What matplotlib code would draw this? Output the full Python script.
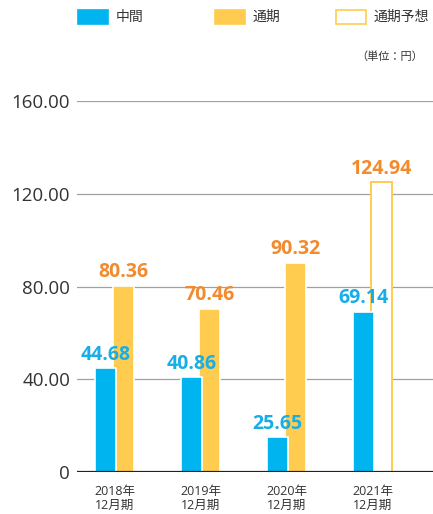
import matplotlib
matplotlib.use("Agg")
import matplotlib.pyplot as plt
import matplotlib.patches as mpatches
import numpy as np

plt.rcParams['font.family'] = ['Open Sans', 'Noto Sans CJK JP', 'DejaVu Sans']

# données
categories = ["2018年\n12月期", "2019年\n12月期", "2020年\n12月期", "2021年\n12月期"]
interim = [44.68, 40.86, 25.65, 69.14]
# hauteur tracée dans l'original (la barre 2020 y est plus courte que son étiquette)
interim_drawn = [44.68, 40.86, 15.0, 69.14]
full_year = [80.36, 70.46, 90.32, None]
forecast = [None, None, None, 124.94]
yticks = [0, 40, 80, 120, 160]
ytick_labels = ["0", "40.00", "80.00", "120.00", "160.00"]

BLUE = "#00b5ef"
YELLOW = "#ffcc4f"
ORANGE = "#f28a2e"
BLUE_TXT = "#17aee8"
GRID = "#a0a0a0"
TXT = "#333333"

fig = plt.figure(figsize=(4.33, 5.14), dpi=100)
ax = fig.add_axes([77/433, 1 - 472/514, 1 - 77/433, (472 - 101)/514])

x = np.arange(len(categories))
w = 0.245
off = 0.105
lab_kw = dict(textcoords="offset points", ha="center", va="bottom",
              fontsize=14, fontweight="bold", zorder=6)

# gridlines
for yt in yticks[1:]:
    ax.axhline(yt, color=GRID, lw=0.9, zorder=0)
ax.axhline(0, color="#222222", lw=1.6, zorder=5)

# barres
for i in range(len(categories)):
    if full_year[i] is not None:
        ax.bar(x[i] + off, full_year[i], w, color=YELLOW, edgecolor="white", lw=1.2, zorder=2)
        ax.annotate(f"{full_year[i]:.2f}", (x[i] + off, full_year[i]), xytext=(0, 2.5),
                    color=ORANGE, **lab_kw)
    if forecast[i] is not None:
        ax.bar(x[i] + off, forecast[i], w, color="white", edgecolor=YELLOW, lw=1.4, zorder=2)
        ax.annotate(f"{forecast[i]:.2f}", (x[i] + off, forecast[i]), xytext=(0, 2.5),
                    color=ORANGE, **lab_kw)
    ax.bar(x[i] - off, interim_drawn[i], w, color=BLUE, edgecolor="white", lw=1.2, zorder=3)
    ax.annotate(f"{interim[i]:.2f}", (x[i] - off, interim_drawn[i]), xytext=(0, 2.5),
                color=BLUE_TXT, **lab_kw)

ax.set_xlim(-0.436, 3.70)
ax.set_ylim(0, 160)
ax.set_yticks(yticks)
ax.set_yticklabels(ytick_labels, fontsize=13.5, color=TXT)
ax.set_xticks(x)
ax.set_xticklabels(categories, fontsize=9, color=TXT, linespacing=1.15)
ax.tick_params(axis="y", length=0, pad=5)
ax.tick_params(axis="x", length=0, pad=9)
for s in ax.spines.values():
    s.set_visible(False)

# légende
def leg_item(x0, label, face, edge):
    r = mpatches.Rectangle((x0/433, 1 - 24/514), 30/433, 14/514, transform=fig.transFigure,
                           facecolor=face, edgecolor=edge, lw=1.2)
    fig.patches.append(r)
    fig.text((x0 + 38)/433, 1 - 17/514, label, fontsize=10, color=TXT, va="center", ha="left")

leg_item(78, "中間", BLUE, BLUE)
leg_item(215, "通期", YELLOW, YELLOW)
leg_item(336, "通期予想", "white", YELLOW)
fig.text(423/433, 1 - 57/514, "（単位：円）", fontsize=8, color=TXT, ha="right", va="center")

fig.savefig("out.png", dpi=100)
